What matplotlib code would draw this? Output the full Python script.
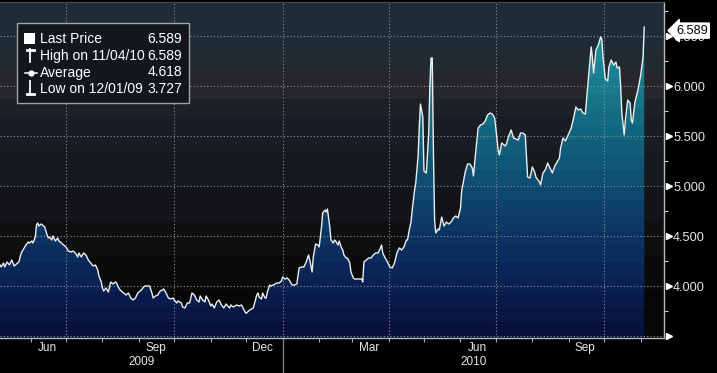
import matplotlib
matplotlib.use("Agg")
import matplotlib.pyplot as plt
import matplotlib.dates as mdates
import matplotlib.transforms as mtransforms
from matplotlib.colors import LinearSegmentedColormap, to_rgb
from matplotlib.patches import Polygon, Rectangle
import numpy as np
import pandas as pd

# price history, one line per month
dates = [
    "2009-05-06", "2009-05-07", "2009-05-09", "2009-05-10", "2009-05-12", "2009-05-14", "2009-05-16", "2009-05-18", "2009-05-20", "2009-05-22", "2009-05-24", "2009-05-26", "2009-05-28", "2009-05-30", "2009-05-31",
    "2009-06-02", "2009-06-03", "2009-06-05", "2009-06-06", "2009-06-07", "2009-06-08", "2009-06-10", "2009-06-12", "2009-06-13", "2009-06-15", "2009-06-16", "2009-06-17", "2009-06-19", "2009-06-20", "2009-06-22", "2009-06-24", "2009-06-25", "2009-06-27", "2009-06-29",
    "2009-07-01", "2009-07-03", "2009-07-05", "2009-07-07", "2009-07-09", "2009-07-11", "2009-07-12", "2009-07-14", "2009-07-16", "2009-07-18", "2009-07-20", "2009-07-22", "2009-07-24", "2009-07-26", "2009-07-28", "2009-07-29", "2009-07-31",
    "2009-08-01", "2009-08-02", "2009-08-04", "2009-08-06", "2009-08-08", "2009-08-10", "2009-08-12", "2009-08-13", "2009-08-14", "2009-08-16", "2009-08-18", "2009-08-19", "2009-08-21", "2009-08-23", "2009-08-25", "2009-08-27", "2009-08-29", "2009-08-31",
    "2009-09-03", "2009-09-05", "2009-09-06", "2009-09-08", "2009-09-10", "2009-09-12", "2009-09-13", "2009-09-15", "2009-09-17", "2009-09-19", "2009-09-21", "2009-09-22", "2009-09-24", "2009-09-26", "2009-09-28", "2009-09-30",
    "2009-10-01", "2009-10-03", "2009-10-04", "2009-10-07", "2009-10-08", "2009-10-10", "2009-10-12", "2009-10-14", "2009-10-16", "2009-10-18", "2009-10-20", "2009-10-22", "2009-10-23", "2009-10-25", "2009-10-27", "2009-10-28", "2009-10-30",
    "2009-11-01", "2009-11-02", "2009-11-04", "2009-11-06", "2009-11-08", "2009-11-10", "2009-11-12", "2009-11-14", "2009-11-16", "2009-11-17", "2009-11-18", "2009-11-20", "2009-11-23", "2009-11-25", "2009-11-27", "2009-11-28", "2009-11-30",
    "2009-12-01", "2009-12-04", "2009-12-07", "2009-12-08", "2009-12-10", "2009-12-11", "2009-12-12", "2009-12-14", "2009-12-15", "2009-12-17", "2009-12-18", "2009-12-19", "2009-12-21", "2009-12-22", "2009-12-24", "2009-12-27", "2009-12-29", "2009-12-31",
    "2010-01-01", "2010-01-03", "2010-01-05", "2010-01-07", "2010-01-09", "2010-01-11", "2010-01-13", "2010-01-15", "2010-01-17", "2010-01-19", "2010-01-21", "2010-01-23", "2010-01-24", "2010-01-26", "2010-01-27", "2010-01-29", "2010-01-31",
    "2010-02-01", "2010-02-03", "2010-02-04", "2010-02-06", "2010-02-07", "2010-02-08", "2010-02-10", "2010-02-11", "2010-02-13", "2010-02-14", "2010-02-15", "2010-02-17", "2010-02-18", "2010-02-20", "2010-02-21", "2010-02-22", "2010-02-24", "2010-02-25", "2010-02-27", "2010-02-28",
    "2010-03-02", "2010-03-03", "2010-03-06", "2010-03-09", "2010-03-10", "2010-03-11", "2010-03-13", "2010-03-15", "2010-03-17", "2010-03-19", "2010-03-21", "2010-03-23", "2010-03-25", "2010-03-26", "2010-03-27", "2010-03-29", "2010-03-31",
    "2010-04-02", "2010-04-04", "2010-04-06", "2010-04-08", "2010-04-10", "2010-04-12", "2010-04-14", "2010-04-16", "2010-04-17", "2010-04-19", "2010-04-20", "2010-04-21", "2010-04-23", "2010-04-24", "2010-04-26", "2010-04-27", "2010-04-28", "2010-04-30",
    "2010-05-01", "2010-05-03", "2010-05-05", "2010-05-06", "2010-05-07", "2010-05-08", "2010-05-09", "2010-05-10", "2010-05-11", "2010-05-13", "2010-05-14", "2010-05-16", "2010-05-18", "2010-05-20", "2010-05-22", "2010-05-24", "2010-05-26", "2010-05-28", "2010-05-30",
    "2010-06-01", "2010-06-02", "2010-06-05", "2010-06-07", "2010-06-09", "2010-06-11", "2010-06-12", "2010-06-14", "2010-06-16", "2010-06-18", "2010-06-20", "2010-06-22", "2010-06-24", "2010-06-26", "2010-06-28", "2010-06-30",
    "2010-07-01", "2010-07-03", "2010-07-04", "2010-07-06", "2010-07-09", "2010-07-10", "2010-07-12", "2010-07-14", "2010-07-16", "2010-07-18", "2010-07-20", "2010-07-22", "2010-07-24", "2010-07-26", "2010-07-27", "2010-07-28", "2010-07-30",
    "2010-08-01", "2010-08-03", "2010-08-04", "2010-08-07", "2010-08-08", "2010-08-10", "2010-08-12", "2010-08-14", "2010-08-16", "2010-08-18", "2010-08-20", "2010-08-22", "2010-08-24", "2010-08-25", "2010-08-27", "2010-08-29", "2010-08-31",
    "2010-09-03", "2010-09-05", "2010-09-07", "2010-09-09", "2010-09-11", "2010-09-13", "2010-09-15", "2010-09-16", "2010-09-18", "2010-09-20", "2010-09-21", "2010-09-22", "2010-09-24", "2010-09-26", "2010-09-28", "2010-09-29", "2010-09-30",
    "2010-10-02", "2010-10-04", "2010-10-05", "2010-10-07", "2010-10-09", "2010-10-11", "2010-10-12", "2010-10-14", "2010-10-15", "2010-10-16", "2010-10-18", "2010-10-19", "2010-10-21", "2010-10-23", "2010-10-24", "2010-10-25", "2010-10-27", "2010-10-29", "2010-10-30",
    "2010-11-01", "2010-11-03", "2010-11-04",
]
prices = [
    4.21, 4.19, 4.23, 4.19, 4.24, 4.21, 4.26, 4.20, 4.22, 4.24, 4.33, 4.37, 4.41, 4.44, 4.43,
    4.45, 4.43, 4.49, 4.61, 4.63, 4.60, 4.62, 4.60, 4.59, 4.51, 4.48, 4.49, 4.46, 4.50, 4.45, 4.48, 4.45, 4.43, 4.41,
    4.39, 4.35, 4.34, 4.35, 4.33, 4.29, 4.33, 4.29, 4.33, 4.31, 4.26, 4.23, 4.20, 4.21, 4.16, 4.10, 4.04,
    3.98, 3.95, 3.98, 3.94, 4.04, 4.02, 4.04, 4.03, 4.00, 3.96, 3.94, 3.93, 3.91, 3.93, 3.88, 3.86, 3.88, 3.93,
    3.96, 3.99, 4.00, 4.00, 4.00, 3.93, 3.88, 3.90, 3.91, 3.95, 3.96, 3.97, 3.93, 3.88, 3.87, 3.88,
    3.86, 3.83, 3.85, 3.83, 3.79, 3.78, 3.83, 3.83, 3.93, 3.91, 3.86, 3.84, 3.90, 3.86, 3.84, 3.90, 3.86,
    3.80, 3.82, 3.78, 3.84, 3.86, 3.81, 3.78, 3.82, 3.79, 3.78, 3.81, 3.79, 3.81, 3.80, 3.81, 3.79, 3.74,
    3.727, 3.76, 3.78, 3.82, 3.91, 3.93, 3.89, 3.87, 3.93, 3.88, 3.88, 3.94, 4.01, 4.00, 4.01, 4.03, 4.03, 4.05,
    4.09, 4.07, 4.08, 4.05, 4.01, 4.01, 4.02, 4.18, 4.19, 4.19, 4.24, 4.31, 4.26, 4.14, 4.29, 4.42, 4.41,
    4.39, 4.59, 4.73, 4.76, 4.74, 4.77, 4.59, 4.46, 4.43, 4.46, 4.45, 4.41, 4.45, 4.38, 4.36, 4.31, 4.28, 4.28, 4.23, 4.14,
    4.08, 4.07, 4.07, 4.07, 4.04, 4.24, 4.26, 4.28, 4.28, 4.31, 4.33, 4.33, 4.38, 4.41, 4.33, 4.28, 4.24,
    4.19, 4.18, 4.23, 4.33, 4.38, 4.36, 4.39, 4.46, 4.46, 4.59, 4.64, 4.76, 4.96, 5.03, 5.30, 5.59, 5.82, 5.69,
    5.15, 5.13, 5.53, 6.00, 6.28, 6.28, 5.36, 4.66, 4.53, 4.57, 4.56, 4.69, 4.60, 4.64, 4.62, 4.64, 4.68, 4.70, 4.68,
    4.78, 4.95, 5.14, 5.22, 5.22, 5.18, 5.10, 5.35, 5.58, 5.61, 5.62, 5.65, 5.71, 5.73, 5.72, 5.68,
    5.58, 5.36, 5.31, 5.43, 5.40, 5.42, 5.50, 5.56, 5.48, 5.47, 5.46, 5.53, 5.53, 5.51, 5.29, 5.09, 5.08,
    5.19, 5.14, 5.09, 5.04, 5.01, 5.13, 5.16, 5.23, 5.18, 5.13, 5.20, 5.24, 5.28, 5.38, 5.48, 5.45, 5.50,
    5.58, 5.68, 5.79, 5.76, 5.77, 5.73, 5.72, 5.86, 6.13, 6.39, 6.28, 6.13, 6.36, 6.41, 6.49, 6.47, 6.29,
    6.07, 6.05, 6.19, 6.26, 6.21, 6.24, 6.18, 6.19, 5.99, 5.73, 5.51, 5.66, 5.86, 5.83, 5.66, 5.63, 5.83, 5.93, 5.98,
    6.11, 6.29, 6.589,
]

legend_labels = ["Last Price", "High on 11/04/10", "Average", "Low on 12/01/09"]
legend_values = [6.589, 6.589, 4.618, 3.727]
last_price = 6.589

y_ticks = [3.5, 4.0, 4.5, 5.0, 5.5, 6.0, 6.5]
y_minor = [3.75, 4.25, 4.75, 5.25, 5.75, 6.25, 6.75]
quarter_starts = ["2009-07-01", "2009-10-01", "2010-01-01", "2010-04-01", "2010-07-01", "2010-10-01"]
year_labels = ["2009", "2010"]
x_start, year_split, x_end = "2009-05-06", "2010-01-01", "2010-11-20T19:00"
y_lo, y_hi = 3.48, 6.84

TXT = "#e4e6e8"
plt.rcParams["font.family"] = ["Liberation Sans", "DejaVu Sans"]


def to_num(values):
    return mdates.date2num(pd.to_datetime(values, format="ISO8601").to_pydatetime())


fig = plt.figure(figsize=(7.17, 3.73), dpi=100, facecolor="black")
ax = fig.add_axes([0, 35 / 373, 664 / 717, 336 / 373])
ax.set_facecolor("black")

x = to_num(dates)
x0, xs, x1 = to_num([x_start, year_split, x_end])

# banded backdrop
bg_levels = [y_lo, 3.95, 4.30, 4.65, 5.00, 5.35, 5.70, 5.88, 6.15, 6.35]
bg_colors = ["#070707", "#0a0a0b", "#0e0f11", "#121418", "#15181d", "#191d23",
             "#1c2027", "#25272a", "#222a31", "#1f2b35"]
rows = np.linspace(y_lo, y_hi, 400)
idx = np.searchsorted(bg_levels, rows, side="right") - 1
bg = np.array([to_rgb(bg_colors[i]) for i in idx])[:, None, :]
ax.imshow(bg, extent=[x0, x1, y_lo, y_hi], origin="lower", aspect="auto",
          interpolation="nearest", zorder=0)

# gradient area under the price
fill_cmap = LinearSegmentedColormap.from_list(
    "fill", ["#07113c", "#0a2152", "#0c3262", "#0e486e", "#115e7a",
             "#167486", "#1c8a98", "#2196a6"], N=22)
grad = np.linspace(0, 1, 400)[:, None]
im = ax.imshow(grad, extent=[x0, x1, y_lo, y_hi], origin="lower", aspect="auto",
               cmap=fill_cmap, interpolation="nearest", zorder=1)
verts = np.column_stack([np.r_[x, x[-1], x[0]], np.r_[prices, y_lo, y_lo]])
poly = Polygon(verts, closed=True, fc="none", ec="none", transform=ax.transData)
ax.add_patch(poly)
im.set_clip_path(poly)

ax.plot(x, prices, color="#e9eff1", lw=1.0, zorder=4)

# dotted grid
grid_kw = dict(color="#8a9298", lw=0.8, ls=(0, (1, 2)), zorder=3)
for v in y_ticks:
    ax.axhline(v, **grid_kw)
for q in to_num(quarter_starts):
    ax.axvline(q, **grid_kw)

ax.set_xlim(x0, x1)
ax.set_ylim(y_lo, y_hi)

# right axis
ax.yaxis.tick_right()
ax.set_yticks(y_ticks)
ax.set_yticklabels(["" if v == 3.5 else f"{v:.3f}" for v in y_ticks])
ax.set_yticks(y_minor, minor=True)
ax.tick_params(axis="y", which="major", length=0, pad=6.5, labelsize=9.2, labelcolor=TXT)
ax.tick_params(axis="y", which="minor", length=3, width=0.8, color="#d0d0d0", direction="out")
ty = mtransforms.blended_transform_factory(ax.transAxes, ax.transData)
ax.plot([1 + 5 / 664] * len(y_ticks), y_ticks, ls="none", marker=">", ms=5,
        color="white", transform=ty, clip_on=False, zorder=5)

# bottom axis
ax.xaxis.set_major_locator(mdates.MonthLocator(bymonth=[3, 6, 9, 12], bymonthday=15))
ax.xaxis.set_major_formatter(mdates.DateFormatter("%b"))
ax.xaxis.set_minor_locator(mdates.MonthLocator())
ax.tick_params(axis="x", which="major", length=0, pad=3, labelsize=8.5, labelcolor=TXT)
ax.tick_params(axis="x", which="minor", length=3, width=0.8, color="#a8a8a8", direction="out")

ax.spines["left"].set_visible(False)
ax.spines["top"].set_color("#4a4f55")
for s in ["right", "bottom"]:
    ax.spines[s].set_color("#b8b8b8")
    ax.spines[s].set_linewidth(1)

tx = mtransforms.blended_transform_factory(ax.transData, ax.transAxes)
for lab, a, b in zip(year_labels, [x0, xs], [xs, x1]):
    ax.text((a + b) / 2, -24 / 336, lab, transform=tx, ha="center", va="center",
            color=TXT, fontsize=8.5)
ax.plot([xs, xs], [0, -0.11], transform=tx, color="#7a7a7a", lw=1, clip_on=False)

# last price tag (covers the top of the 6.500 label, as in the terminal view)
ax.text(1 + 12 / 664, last_price - 0.035, f"{last_price:.3f}", transform=ty,
        ha="left", va="center", fontsize=9.2, color="black", zorder=10, clip_on=False,
        bbox=dict(boxstyle="larrow,pad=0.12", fc="white", ec="white"))

# legend box drawn in pixel space
lg = fig.add_axes([0, 0, 1, 1])
lg.set_xlim(0, 717)
lg.set_ylim(373, 0)
lg.axis("off")
lg.add_patch(Rectangle((17, 23), 172, 80, fc="#13171c", ec="#a0a4a8", lw=1))
rows_y = [39, 56, 72.5, 89]
for yy, lab, val in zip(rows_y, legend_labels, legend_values):
    lg.text(40, yy, lab, ha="left", va="center", color="white", fontsize=10)
    lg.text(182, yy, f"{val:.3f}", ha="right", va="center", color="white", fontsize=10)
# icons: last price square, high pin, average dot, low pin
lg.add_patch(Rectangle((24, 33), 11, 11, fc="white", ec="none"))
lg.plot([30, 30], [49, 62], color="white", lw=1.3)
lg.plot([26.5, 33.5], [49.5, 49.5], color="white", lw=2)
lg.plot([25, 37], [72.5, 72.5], color="white", lw=1.1)
lg.plot([31], [72.5], marker="o", ms=3.5, color="white")
lg.plot([30, 30], [81, 94], color="white", lw=1.3)
lg.plot([26.5, 33.5], [93.5, 93.5], color="white", lw=2)

fig.savefig("out.png", dpi=100, facecolor="black")
